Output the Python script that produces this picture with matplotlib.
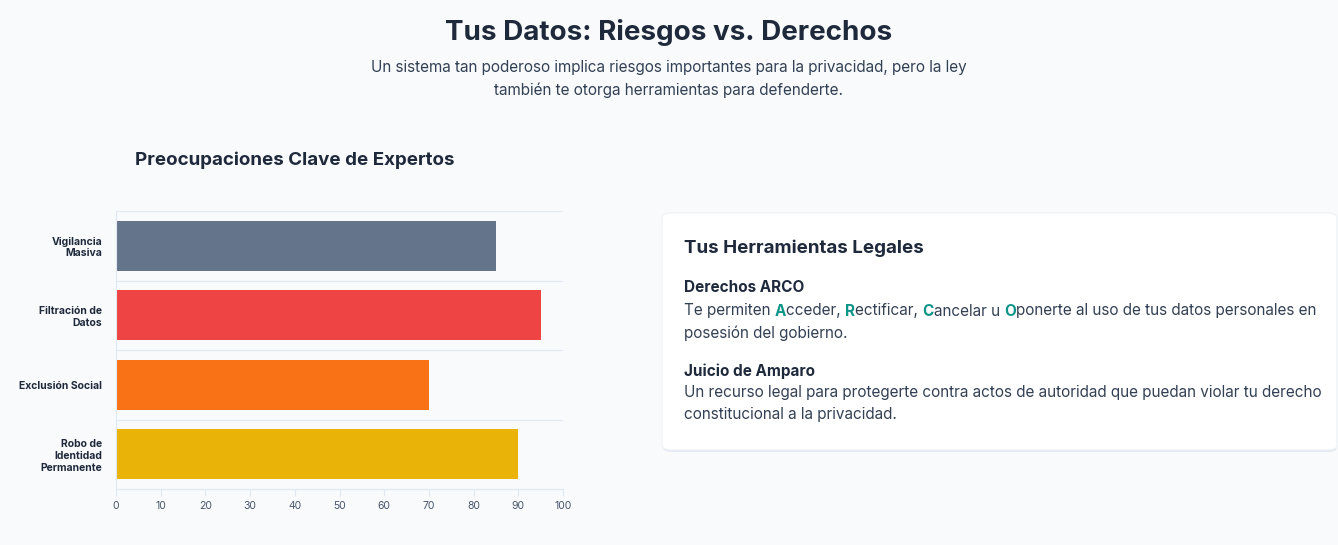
import matplotlib
matplotlib.use("Agg")
import matplotlib.pyplot as plt
from matplotlib.patches import FancyBboxPatch

categories = ["Vigilancia\nMasiva", "Filtración de\nDatos", "Exclusión Social", "Robo de\nIdentidad\nPermanente"]
values = [85, 95, 70, 90]
colors = ["#64748b", "#ef4444", "#f97316", "#eab308"]
xticks = [0, 10, 20, 30, 40, 50, 60, 70, 80, 90, 100]

BG = "#f8fafc"
DARK = "#1e293b"
TEXT = "#334155"
TEAL = "#0d9488"
FONT = "Inter"
plt.rcParams["font.family"] = FONT

W, H = 1338, 545
fig = plt.figure(figsize=(W / 100, H / 100), dpi=100, facecolor=BG)


def fx(px):
    return px / W


def fy(py):
    return 1 - py / H


fig.text(0.5, fy(32), "Tus Datos: Riesgos vs. Derechos", ha="center", va="center",
         fontsize=20, fontweight="bold", color=DARK)
fig.text(0.5, fy(79), "Un sistema tan poderoso implica riesgos importantes para la privacidad, pero la ley\n"
         "también te otorga herramientas para defenderte.", ha="center", va="center",
         fontsize=11, color=TEXT, linespacing=1.6)
fig.text(fx(135), fy(160), "Preocupaciones Clave de Expertos", ha="left", va="center",
         fontsize=13.5, fontweight="bold", color=DARK)

ax = fig.add_axes([fx(116), fy(489), fx(563) - fx(116), (489 - 211) / H])
ax.set_facecolor(BG)
pos = list(range(len(categories)))
ax.barh(pos, values, height=0.72, color=colors)
ax.set_ylim(len(categories) - 0.5, -0.5)
ax.set_xlim(0, 100)
ax.set_xticks(xticks)
ax.set_yticks(pos)
ax.set_yticklabels(categories, fontsize=7.5, fontweight="bold", color=DARK)
ax.tick_params(axis="x", labelsize=7.5, colors="#475569", length=5, color="#e2e8f0")
ax.tick_params(axis="y", length=0, pad=10)
for y in [p - 0.5 for p in pos] + [len(categories) - 0.5]:
    ax.axhline(y, color="#e2e8f0", lw=0.8, zorder=0)
for s in ["top", "right"]:
    ax.spines[s].set_visible(False)
for s in ["left", "bottom"]:
    ax.spines[s].set_color("#e2e8f0")

# Card
shadow = FancyBboxPatch((fx(663), fy(452)), fx(1337) - fx(663), (452 - 214) / H,
                        boxstyle="round,pad=0,rounding_size=0.008", transform=fig.transFigure,
                        facecolor="#e2e8f0", edgecolor="none", zorder=0)
card = FancyBboxPatch((fx(662), fy(450)), fx(1337) - fx(662), (450 - 213) / H,
                      boxstyle="round,pad=0,rounding_size=0.008", transform=fig.transFigure,
                      facecolor="white", edgecolor="#eef2f6", lw=0.8, zorder=1)
fig.patches.extend([shadow, card])

fig.text(fx(684), fy(248), "Tus Herramientas Legales", ha="left", va="center",
         fontsize=13.5, fontweight="bold", color=DARK, zorder=2)
fig.text(fx(684), fy(288), "Derechos ARCO", ha="left", va="center",
         fontsize=11, fontweight="bold", color=DARK, zorder=2)

renderer = fig.canvas.get_renderer()
parts = [("Te permiten ", TEXT, "normal"), ("A", TEAL, "bold"), ("cceder, ", TEXT, "normal"),
         ("R", TEAL, "bold"), ("ectificar, ", TEXT, "normal"), ("C", TEAL, "bold"),
         ("ancelar u ", TEXT, "normal"), ("O", TEAL, "bold"),
         ("ponerte al uso de tus datos personales en", TEXT, "normal")]
x = 684
for s, c, w in parts:
    t = fig.text(fx(x), fy(311), s, ha="left", va="center", fontsize=11, color=c,
                 fontweight=w, zorder=2)
    bb = t.get_window_extent(renderer)
    x += bb.width
fig.text(fx(684), fy(333), "posesión del gobierno.", ha="left", va="center",
         fontsize=11, color=TEXT, zorder=2)

fig.text(fx(684), fy(371), "Juicio de Amparo", ha="left", va="center",
         fontsize=11, fontweight="bold", color=DARK, zorder=2)
fig.text(fx(684), fy(393), "Un recurso legal para protegerte contra actos de autoridad que puedan violar tu derecho",
         ha="left", va="center", fontsize=11, color=TEXT, zorder=2)
fig.text(fx(684), fy(415), "constitucional a la privacidad.", ha="left", va="center",
         fontsize=11, color=TEXT, zorder=2)

fig.savefig("out.png", dpi=100, facecolor=BG)
